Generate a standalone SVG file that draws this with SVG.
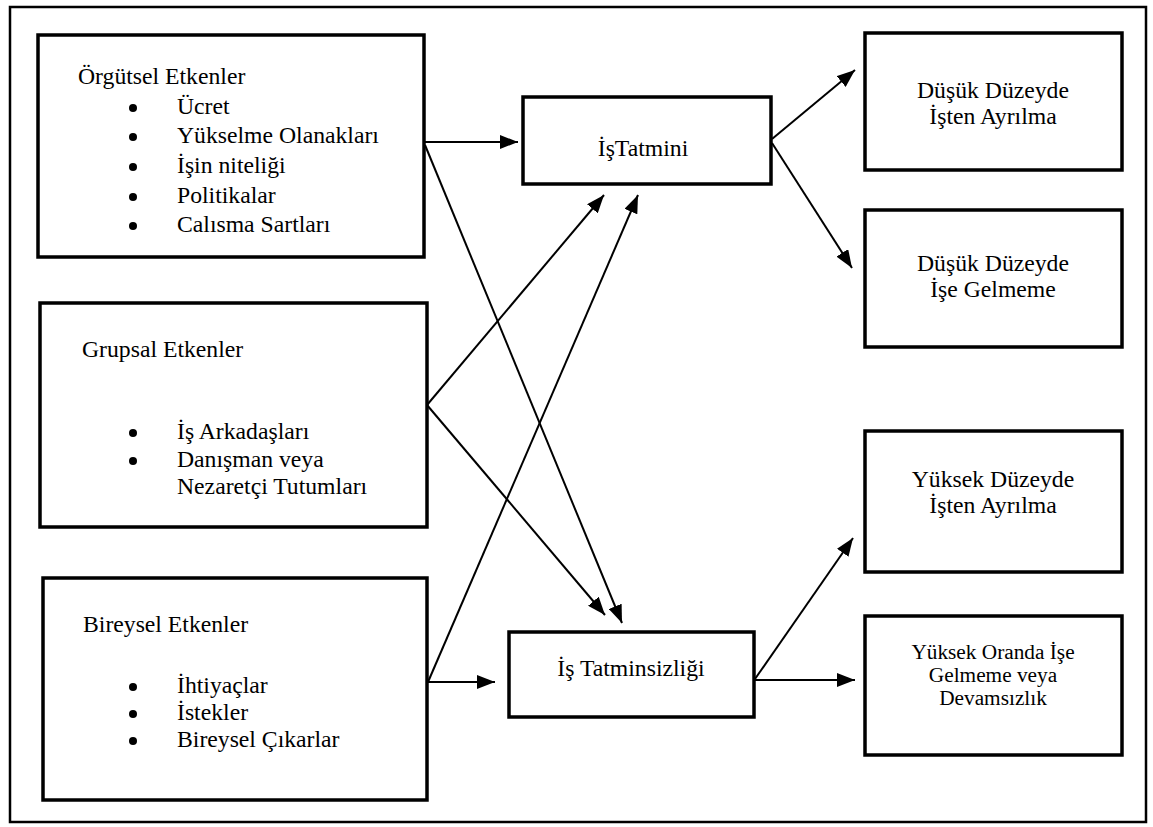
<svg xmlns="http://www.w3.org/2000/svg" width="1153" height="827" viewBox="0 0 1153 827">
<defs>
<style>
.box{fill:#fff;stroke:#000;stroke-width:3.5}
text{font-family:"Liberation Serif","DejaVu Serif","Times New Roman",serif;font-size:23.7px;fill:#000}
.c{text-anchor:middle}
.s{font-size:21.3px}
</style>
<marker id="ah2" viewBox="0 0 18 14" refX="18" refY="7" markerWidth="18" markerHeight="14" markerUnits="userSpaceOnUse" orient="auto">
<path d="M0,0 L18,7 L0,14 Z" fill="#000"/>
</marker>
</defs>
<rect x="0" y="0" width="1153" height="827" fill="#fff"/>
<rect x="10" y="7" width="1136" height="815" fill="none" stroke="#000" stroke-width="2.5"/>

<g id="connectors" stroke="#000" stroke-width="2" fill="none">
<line x1="425" y1="142" x2="518" y2="142" marker-end="url(#ah2)"/>
<line x1="425" y1="145" x2="622" y2="623" marker-end="url(#ah2)"/>
<line x1="427" y1="405" x2="604" y2="195" marker-end="url(#ah2)"/>
<line x1="427" y1="405" x2="605" y2="615" marker-end="url(#ah2)"/>
<line x1="428" y1="682" x2="638" y2="195" marker-end="url(#ah2)"/>
<line x1="428" y1="682" x2="495" y2="682" marker-end="url(#ah2)"/>
<line x1="772" y1="139" x2="855" y2="70" marker-end="url(#ah2)"/>
<line x1="772" y1="143" x2="852" y2="268" marker-end="url(#ah2)"/>
<line x1="755" y1="679" x2="853" y2="538" marker-end="url(#ah2)"/>
<line x1="755" y1="680" x2="855" y2="680" marker-end="url(#ah2)"/>
</g>

<g id="orgutsel">
<rect class="box" x="38" y="35" width="386" height="222"/>
<text x="78" y="84">Örgütsel Etkenler</text>
<circle cx="133" cy="108" r="4"/><text x="177" y="114">Ücret</text>
<circle cx="133" cy="137" r="4"/><text x="177" y="143">Yükselme Olanakları</text>
<circle cx="133" cy="167" r="4"/><text x="177" y="173">İşin niteliği</text>
<circle cx="133" cy="197" r="4"/><text x="177" y="203">Politikalar</text>
<circle cx="133" cy="226" r="4"/><text x="177" y="232">Calısma Sartları</text>
</g>

<g id="grupsal">
<rect class="box" x="40" y="303" width="387" height="224"/>
<text x="82" y="357">Grupsal Etkenler</text>
<circle cx="133" cy="433" r="4"/><text x="177" y="439">İş Arkadaşları</text>
<circle cx="133" cy="461" r="4"/><text x="177" y="467">Danışman veya</text>
<text x="177" y="494">Nezaretçi Tutumları</text>
</g>

<g id="bireysel">
<rect class="box" x="43" y="578" width="384" height="222"/>
<text x="83" y="632">Bireysel Etkenler</text>
<circle cx="133" cy="687" r="4"/><text x="177" y="693">İhtiyaçlar</text>
<circle cx="133" cy="714" r="4"/><text x="177" y="720">İstekler</text>
<circle cx="133" cy="741" r="4"/><text x="177" y="747">Bireysel Çıkarlar</text>
</g>

<g id="istatmini">
<rect class="box" x="523" y="97" width="248" height="87"/>
<text class="c" x="643" y="156">İşTatmini</text>
</g>

<g id="istatminsizligi">
<rect class="box" x="509" y="632" width="245" height="85"/>
<text class="c" x="631" y="676">İş Tatminsizliği</text>
</g>

<g id="dusuk-ayrilma">
<rect class="box" x="865" y="33" width="257" height="137"/>
<text class="c" x="993" y="98">Düşük Düzeyde</text>
<text class="c" x="993" y="124">İşten Ayrılma</text>
</g>

<g id="dusuk-gelmeme">
<rect class="box" x="865" y="210" width="257" height="137"/>
<text class="c" x="993" y="271">Düşük Düzeyde</text>
<text class="c" x="993" y="297">İşe Gelmeme</text>
</g>

<g id="yuksek-ayrilma">
<rect class="box" x="865" y="431" width="257" height="141"/>
<text class="c" x="993" y="487">Yüksek Düzeyde</text>
<text class="c" x="993" y="513">İşten Ayrılma</text>
</g>

<g id="yuksek-gelmeme">
<rect class="box" x="865" y="616" width="257" height="139"/>
<text class="c s" x="993" y="659">Yüksek Oranda İşe</text>
<text class="c s" x="993" y="682">Gelmeme veya</text>
<text class="c s" x="993" y="705">Devamsızlık</text>
</g>
</svg>
